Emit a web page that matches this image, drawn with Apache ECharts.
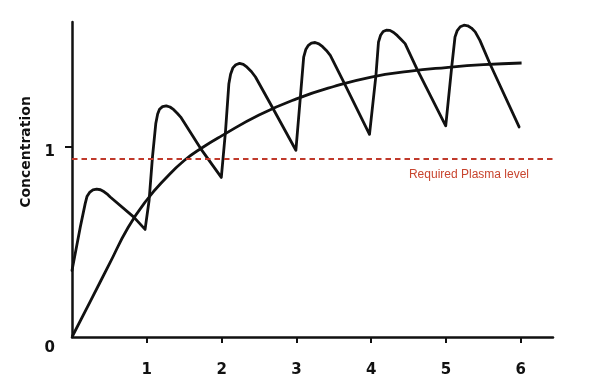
<!DOCTYPE html>
<html>
<head>
<meta charset="utf-8">
<script src="https://cdn.jsdelivr.net/npm/echarts@6/dist/echarts.min.js"></script>
<style>
  html, body { margin: 0; padding: 0; background: #ffffff; }
  #chart { width: 609px; height: 390px; }
</style>
</head>
<body>
<div id="chart"></div>
<script>
// ---- data ----
const xTickValues = [1, 2, 3, 4, 5, 6];
const yLabelValues = [0, 1];
const yTickValues = [1];
const requiredLevel = 0.937;
const requiredLabel = 'Required Plasma level';
const yTitle = 'Concentration';

// smooth accumulation curve (time, concentration)
const plateauTime = [0, 0.25, 0.5, 0.75, 1.0, 1.25, 1.5, 1.75, 2.0, 2.5, 3.0, 3.5, 4.0, 4.5, 5.0, 5.5, 6.01];
const plateauConc = [0, 0.192, 0.385, 0.577, 0.722, 0.835, 0.93, 1.0, 1.06, 1.17, 1.255, 1.32, 1.37, 1.40, 1.42, 1.435, 1.444];

// repeated-dose (sawtooth) curve (time, concentration)
const doseTime = [
  0.0, 0.111, 0.177, 0.2, 0.235, 0.28, 0.33, 0.38, 0.43, 0.48, 0.511, 0.823, 0.977,
  1.031, 1.076, 1.12, 1.145, 1.17, 1.21, 1.26, 1.31, 1.36, 1.41, 1.453, 1.72, 1.996,
  2.053, 2.097, 2.12, 2.15, 2.19, 2.24, 2.29, 2.34, 2.40, 2.453, 2.676, 2.993,
  3.053, 3.097, 3.125, 3.16, 3.2, 3.25, 3.30, 3.35, 3.40, 3.453, 3.631, 3.977,
  4.063, 4.097, 4.125, 4.16, 4.2, 4.25, 4.30, 4.35, 4.40, 4.453, 4.609, 4.996,
  5.076, 5.12, 5.15, 5.19, 5.24, 5.29, 5.34, 5.39, 5.453, 5.587, 5.977
];
const doseConc = [
  0.35, 0.58, 0.704, 0.74, 0.762, 0.775, 0.779, 0.776, 0.765, 0.75, 0.738, 0.633, 0.567,
  0.721, 0.949, 1.125, 1.175, 1.2, 1.214, 1.218, 1.212, 1.198, 1.178, 1.159, 0.993, 0.841,
  1.089, 1.335, 1.385, 1.418, 1.435, 1.442, 1.437, 1.422, 1.398, 1.37, 1.212, 0.984,
  1.265, 1.475, 1.515, 1.537, 1.549, 1.552, 1.545, 1.53, 1.51, 1.484, 1.344, 1.068,
  1.379, 1.554, 1.59, 1.61, 1.617, 1.616, 1.605, 1.588, 1.568, 1.546, 1.414, 1.113,
  1.423, 1.581, 1.615, 1.635, 1.643, 1.64, 1.628, 1.608, 1.563, 1.44, 1.107
];

const plateauData = plateauTime.map((t, i) => [t, plateauConc[i]]);
const doseData = doseTime.map((t, i) => [t, doseConc[i]]);

const ink = '#111111';
const red = '#c0392b';
const labelFont = 'DejaVu Sans';

const chart = echarts.init(document.getElementById('chart'), null, { renderer: 'canvas' });
chart.setOption({
  animation: false,
  backgroundColor: '#ffffff',
  grid: { left: 72, right: 56, top: 22, bottom: 53, containLabel: false },
  xAxis: {
    type: 'value',
    min: 0,
    max: 6.43,
    splitLine: { show: false },
    axisLine: { show: true, onZero: false, lineStyle: { color: ink, width: 2.5 } },
    axisTick: { show: true, customValues: xTickValues, length: 6, lineStyle: { color: ink, width: 2 } },
    axisLabel: {
      customValues: xTickValues,
      margin: 26,
      color: ink,
      fontFamily: labelFont,
      fontWeight: 'bold',
      fontSize: 15
    }
  },
  yAxis: {
    type: 'value',
    min: 0,
    max: 1.66,
    interval: 1,
    splitLine: { show: false },
    axisLine: { show: true, onZero: false, lineStyle: { color: ink, width: 2.5 } },
    axisTick: { show: true, customValues: yTickValues, length: 7, lineStyle: { color: ink, width: 2 } },
    axisLabel: {
      customValues: yLabelValues,
      margin: 17,
      formatter: v => (v === 0 ? '{z|0}' : '{o|' + v + '}'),
      rich: {
        z: { padding: [22, 0, 0, 0], color: ink, fontFamily: labelFont, fontWeight: 'bold', fontSize: 15 },
        o: { padding: [10, 0, 0, 0], color: ink, fontFamily: labelFont, fontWeight: 'bold', fontSize: 15 }
      }
    }
  },
  graphic: [{
    type: 'text',
    x: 26,
    y: 152,
    rotation: Math.PI / 2,
    style: {
      text: yTitle,
      fill: ink,
      font: 'bold 14px "DejaVu Sans"',
      textAlign: 'center',
      textVerticalAlign: 'middle'
    }
  }],
  series: [
    {
      type: 'line',
      data: plateauData,
      smooth: 0.5,
      showSymbol: false,
      symbol: 'none',
      silent: true,
      lineStyle: { color: ink, width: 2.8 },
      markLine: {
        silent: true,
        symbol: ['none', 'none'],
        lineStyle: { color: red, type: [5.5, 4], width: 2 },
        label: {
          show: true,
          formatter: requiredLabel,
          position: 'insideEndBottom',
          distance: [24, 10],
          color: '#c8452f',
          fontFamily: 'Liberation Sans',
          fontSize: 12
        },
        data: [{ yAxis: requiredLevel }]
      }
    },
    {
      type: 'line',
      data: doseData,
      smooth: false,
      showSymbol: false,
      symbol: 'none',
      silent: true,
      lineStyle: { color: ink, width: 2.8, join: 'round', cap: 'round' }
    }
  ]
});
</script>
</body>
</html>
